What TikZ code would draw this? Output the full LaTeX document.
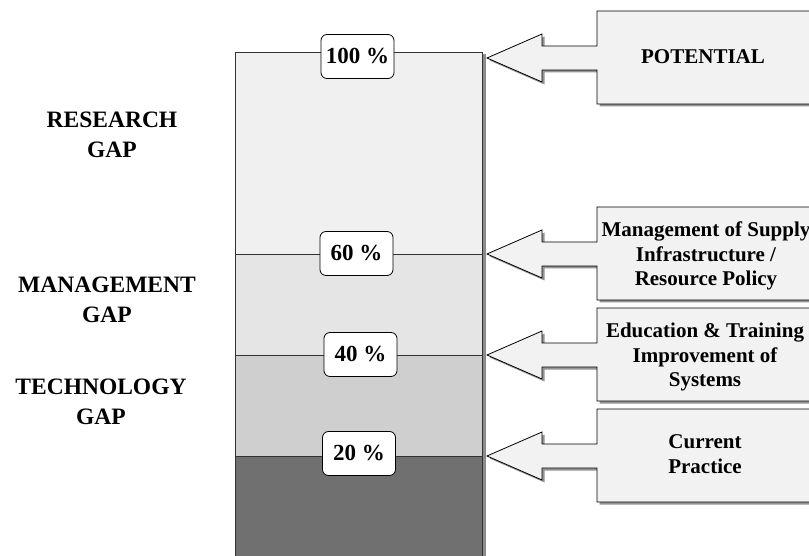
\documentclass[tikz,border=0pt]{standalone}
\usepackage{fontspec}
\setmainfont{Liberation Serif}
% outline of one arrow callout, centred on y = 0
\newcommand{\calloutpath}{(487,0)--(542,-24)--(542,-12)--(597,-12)--(597,-47)--(840,-47)--(840,46)--(597,46)--(597,12)--(542,12)--(542,24)--cycle}
\newcommand{\arrowbox}[1]{%
  \fill[black!42,shift={(2.5,#1+2.5)}] \calloutpath;
  \draw[callout,shift={(0,#1)}] \calloutpath;}
\begin{document}
\begin{tikzpicture}[x=1pt,y=-1pt,
    pct/.style={draw,line width=0.8pt,rounded corners=6pt,fill=white,minimum width=73pt,minimum height=44pt,inner sep=0pt,font=\bfseries\fontsize{23}{27}\selectfont},
    gap/.style={align=center,font=\bfseries\fontsize{23.5}{30}\selectfont},
    note/.style={align=center,font=\bfseries\fontsize{21}{24.5}\selectfont},
    callout/.style={draw=black,line width=0.8pt,fill=black!5},
    level/.style={draw=black!80,line width=0.9pt}]
    \path[use as bounding box] (0,0) rectangle (809,556);
    \clip (0,0) rectangle (809,556);

    % the bar
    \fill[black!45] (237.5,54.5) rectangle (485.5,570);
    \fill[black!6] (235,52) rectangle (482,254);
    \fill[black!10] (235,254) rectangle (482,355);
    \fill[black!19] (235,355) rectangle (482,456);
    \fill[black!56] (235,456) rectangle (482,570);
    \draw[level] (235,570)--(235,52)--(482,52)--(482,570);
    \coordinate (l60) at (235,254);
    \coordinate (l40) at (235,355);
    \coordinate (l20) at (235,456);
    \draw[level] (l60)--++(247,0);
    \draw[level] (l40)--++(247,0);
    \draw[level] (l20)--++(247,0);

    \node[pct] (p100) at (357.5,56.5) {100 \%};
    \node[pct] (p60) at (356.5,253.5) {60 \%};
    \node[pct] (p40) at (360.5,354.5) {40 \%};
    \node[pct] (p20) at (359,453.5) {20 \%};

    % gaps on the left
    \node[gap] (research) at (112,135) {RESEARCH\\GAP};
    \node[gap] (management) at (107,300) {MANAGEMENT\\GAP};
    \node[gap] (technology) at (101,402) {TECHNOLOGY\\GAP};

    % callouts on the right
    \arrowbox{58}
    \arrowbox{254}
    \arrowbox{355}
    \arrowbox{456}
    \node[note] (potential) at (703,57) {POTENTIAL};
    \node[note] (supply) at (706,256) {Management of Supply\\Infrastructure /\\Resource Policy};
    \node[note] (training) at (705,357) {Education \& Training\\Improvement of\\Systems};
    \node[note] (practice) at (705,454) {Current\\Practice};
\end{tikzpicture}
\end{document}
